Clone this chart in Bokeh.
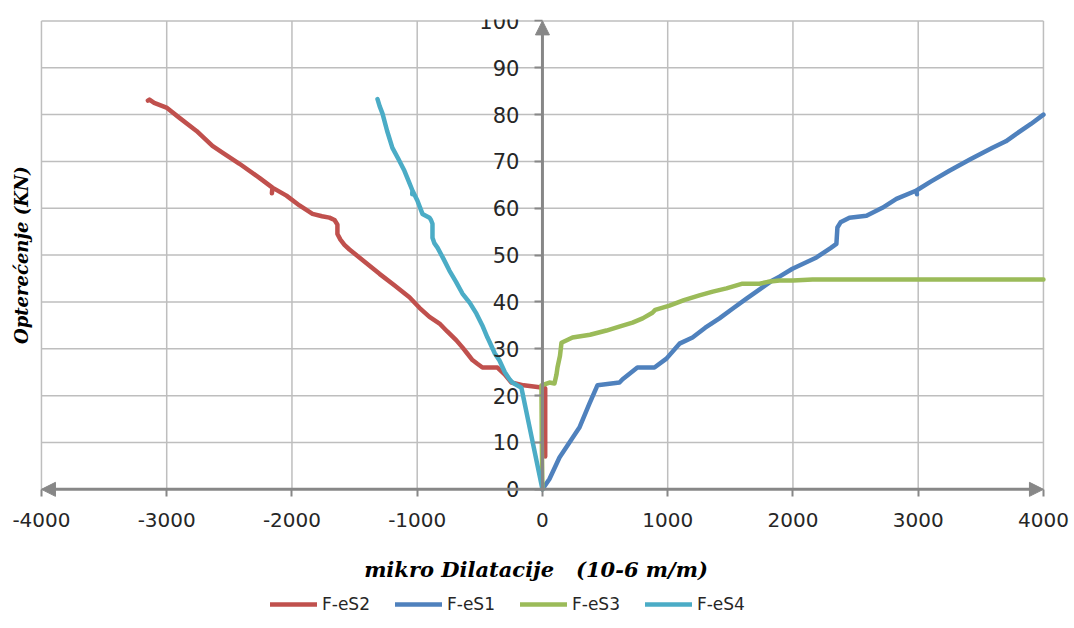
from bokeh.plotting import figure
from bokeh.models import (Range1d, Arrow, NormalHead, Legend, LegendItem, Label, FixedTicker,
                          CustomJSTickFormatter)
from bokeh.embed import file_html
from bokeh.resources import INLINE

# ---------------- data ----------------
x_ticks = [-4000, -3000, -2000, -1000, 0, 1000, 2000, 3000, 4000]
y_ticks = [0, 10, 20, 30, 40, 50, 60, 70, 80, 90, 100]

names = ["F-eS2", "F-eS1", "F-eS3", "F-eS4"]
colors = ["#C0504D", "#4F81BD", "#9BBB59", "#4BACC6"]

s2_x = [22, 22, -24, -150, -248, -300, -359, -479, -520, -559, -600, -639, -687, -760,
        -822, -902, -980, -1062, -1180, -1301, -1420, -1541, -1581, -1613, -1637, -1637,
        -1660, -1701, -1760, -1836, -1940, -2044, -2156, -2160, -2156, -2260, -2419,
        -2555, -2635, -2762, -2898, -3002, -3100, -3138, -3150]
s2_y = [7, 21.6, 21.8, 22.2, 22.8, 24.5, 26.0, 26.0, 26.8, 27.6, 29.0, 30.3, 31.8, 33.7,
        35.4, 36.8, 38.7, 41.0, 43.5, 46.0, 48.6, 51.2, 52.2, 53.3, 54.5, 56.5,
        57.5, 58.0, 58.3, 58.8, 60.6, 62.7, 64.4, 63.2, 64.4, 66.5, 69.5,
        71.9, 73.3, 76.5, 79.3, 81.5, 82.5, 83.2, 83.0]

s1_x = [0, 56, 136, 295, 375, 439, 615, 640, 758, 894, 990, 1094, 1198, 1300, 1413,
        1520, 1629, 1740, 1836, 1892, 1996, 2188, 2300, 2347, 2355, 2380, 2451, 2587,
        2714, 2826, 2986, 2990, 2986, 3100, 3249, 3420, 3593, 3700, 3784, 3900, 4000]
s1_y = [0, 2.2, 6.8, 13.2, 18.3, 22.2, 22.8, 23.5, 26.0, 26.0, 27.9, 31.1, 32.4, 34.5, 36.5,
        38.6, 40.7, 42.8, 44.6, 45.4, 47.1, 49.5, 51.5, 52.4, 55.9, 57.0, 58.0, 58.4,
        60.1, 62.0, 63.8, 63.0, 63.8, 65.7, 68.0, 70.5, 72.9, 74.3, 75.9, 78.0, 80.0]

s3_x = [0, -5, -8, 56, 96, 112, 120, 140, 152, 240, 380, 511, 620, 719, 800, 878, 900,
        1014, 1130, 1253, 1360, 1469, 1597, 1733, 1800, 1892, 2000, 2156, 2500, 3000,
        3500, 4000]
s3_y = [0, 10, 22.2, 22.8, 22.6, 24.5, 26.0, 28.5, 31.3, 32.4, 33.0, 33.9, 34.8, 35.6,
        36.5, 37.7, 38.3, 39.2, 40.4, 41.4, 42.2, 42.9, 43.9, 43.9, 44.3, 44.6, 44.6,
        44.8, 44.8, 44.8, 44.8, 44.8]

s4_x = [0, -168, -240, -263, -300, -343, -380, -423, -439, -480, -527, -580, -639, -690,
        -743, -790, -838, -862, -878, -878, -890, -902, -958, -978, -998, -1038, -1040,
        -1038, -1070, -1102, -1150, -1198, -1240, -1277, -1300, -1317]
s4_y = [0, 21.7, 22.8, 23.5, 25.0, 27.5, 29.0, 31.5, 32.4, 35.0, 37.5, 39.8, 41.8, 44.3,
        46.7, 49.2, 51.6, 52.5, 53.7, 56.7, 57.5, 58.0, 58.8, 60.2, 61.6, 63.8, 63.0,
        63.8, 65.9, 68.0, 70.5, 72.9, 76.5, 80.2, 81.8, 83.3]

series_x = [s2_x, s1_x, s3_x, s4_x]
series_y = [s2_y, s1_y, s3_y, s4_y]

x_title = "mikro Dilatacije \u00a0 (10-6 m/m)"
y_title = "Opterećenje (KN)"

# ---------------- figure ----------------
xmin, xmax = x_ticks[0], x_ticks[-1]
ymin, ymax = y_ticks[0], y_ticks[-1]
axis_gray = "#878787"
grid_gray = "#BEBEBE"
text_col = "#262626"
hyphen_fmt = CustomJSTickFormatter(code="return String(tick);")

# the frame also holds the margins around the data area (titles, tick labels, legend)
p = figure(frame_width=1069, frame_height=601,
           x_range=Range1d(xmin - 319, xmax + 216), y_range=Range1d(ymin - 28, ymax + 0.3),
           output_backend="svg", toolbar_location=None,
           min_border_left=1, min_border_right=0, min_border_top=19, min_border_bottom=2)
p.outline_line_color = None
p.background_fill_color = "white"
p.border_fill_color = "white"
p.grid.visible = False

# grid lines limited to the data area
p.segment(x0=[xmin] * len(y_ticks), y0=y_ticks, x1=[xmax] * len(y_ticks), y1=y_ticks,
          line_color=grid_gray, line_width=1.5)
p.segment(x0=x_ticks, y0=[ymin] * len(x_ticks), x1=x_ticks, y1=[ymax] * len(x_ticks),
          line_color=grid_gray, line_width=1.5)

# x axis at y = 0
xa = p.xaxis[0]
xa.ticker = FixedTicker(ticks=x_ticks)
xa.formatter = hyphen_fmt
xa.fixed_location = 0
xa.axis_line_color = None
xa.major_tick_line_color = axis_gray
xa.major_tick_line_width = 2
xa.major_tick_out = 7
xa.major_tick_in = 0
xa.minor_tick_line_color = None
xa.major_label_standoff = 17
xa.major_label_text_font = "DejaVu Sans"
xa.major_label_text_font_size = "20px"
xa.major_label_text_color = text_col
xa.axis_label = x_title
xa.axis_label_text_font = "DejaVu Serif"
xa.axis_label_text_font_style = "bold italic"
xa.axis_label_text_font_size = "21px"
xa.axis_label_text_color = "black"
xa.axis_label_standoff = 26

# y axis at x = 0
ya = p.yaxis[0]
ya.ticker = FixedTicker(ticks=y_ticks)
ya.formatter = hyphen_fmt
ya.fixed_location = 0
ya.axis_line_color = None
ya.major_tick_line_color = axis_gray
ya.major_tick_line_width = 2
ya.major_tick_out = 8
ya.major_tick_in = 0
ya.minor_tick_line_color = None
ya.major_label_standoff = 15
ya.major_label_text_font = "DejaVu Sans"
ya.major_label_text_font_size = "21px"
ya.major_label_text_color = text_col

# y axis title, left of the data area, centred on it
p.add_layout(Label(x=xmin - 160, y=(ymin + ymax) / 2, text=y_title, angle=90, angle_units="deg",
                   text_align="center", text_baseline="middle",
                   text_font="DejaVu Serif", text_font_style="bold italic",
                   text_font_size="18px", text_color="black"))

# axis arrows
p.add_layout(Arrow(start=NormalHead(size=14, fill_color=axis_gray, line_color=axis_gray),
                   end=NormalHead(size=14, fill_color=axis_gray, line_color=axis_gray),
                   x_start=xmin, y_start=0, x_end=xmax, y_end=0,
                   line_color=axis_gray, line_width=3))
p.add_layout(Arrow(end=NormalHead(size=14, fill_color=axis_gray, line_color=axis_gray),
                   x_start=0, y_start=ymin, x_end=0, y_end=ymax,
                   line_color=axis_gray, line_width=3))

items = []
for nm, c, xs, ys in zip(names, colors, series_x, series_y):
    r = p.line(xs, ys, line_color=c, line_width=4.5, line_join="round", line_cap="round")
    items.append(LegendItem(label=nm, renderers=[r]))

legend = Legend(items=items, orientation="horizontal", location=(269, 6),
                glyph_width=47, glyph_height=18, label_standoff=5, spacing=25,
                label_text_font="DejaVu Sans", label_text_font_size="17px",
                label_text_color=text_col, border_line_color=None,
                padding=2, margin=0, background_fill_alpha=0)
p.add_layout(legend)

open("out.html", "w").write(file_html(p, INLINE))
